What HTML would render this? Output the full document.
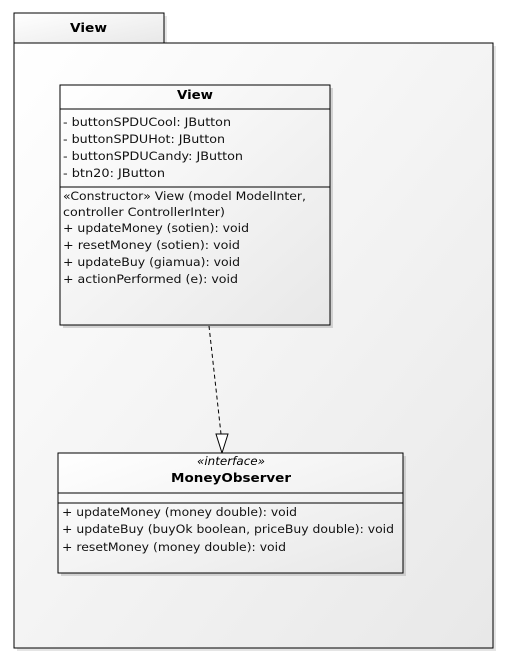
<!DOCTYPE html>
<html><head><meta charset="utf-8"><style>html,body{margin:0;padding:0;background:#fff}svg{display:block}</style></head>
<body>
<svg width="509" height="664" xmlns="http://www.w3.org/2000/svg" font-family="DejaVu Sans, Verdana, sans-serif" font-size="11.5">
<defs>
<linearGradient id="g" x1="0" y1="0" x2="1" y2="1"><stop offset="0" stop-color="#ffffff"/><stop offset="1" stop-color="#e8e8e8"/></linearGradient>
</defs>
<rect x="17" y="16" width="150" height="30" fill="#ccc" opacity="0.5"/>
<rect x="17" y="46" width="479" height="605" fill="#ccc" opacity="0.5"/>
<rect x="14" y="13" width="150" height="30" fill="url(#g)" stroke="#000" stroke-width="1"/>
<rect x="14" y="43" width="479" height="605" fill="url(#g)" stroke="#000" stroke-width="1"/>
<text x="70" y="32" textLength="37" lengthAdjust="spacingAndGlyphs" font-weight="bold" font-size="12.5">View</text>
<rect x="63" y="88" width="270" height="240" fill="#bbb" opacity="0.6"/>
<rect x="60" y="85" width="270" height="240" fill="url(#g)" stroke="#000"/>
<line x1="60" y1="109" x2="330" y2="109" stroke="#000"/>
<line x1="60" y1="187" x2="330" y2="187" stroke="#000"/>
<text x="177" y="99" textLength="36" lengthAdjust="spacingAndGlyphs" font-weight="bold" font-size="12.5">View</text>
<g fill="#111">
<text x="63" y="126" textLength="168" lengthAdjust="spacingAndGlyphs">- buttonSPDUCool: JButton</text>
<text x="63" y="143" textLength="162" lengthAdjust="spacingAndGlyphs">- buttonSPDUHot: JButton</text>
<text x="63" y="160" textLength="180" lengthAdjust="spacingAndGlyphs">- buttonSPDUCandy: JButton</text>
<text x="63" y="177" textLength="102" lengthAdjust="spacingAndGlyphs">- btn20: JButton</text>
<text x="63" y="200" textLength="243" lengthAdjust="spacingAndGlyphs">«Constructor» View (model ModelInter,</text>
<text x="63" y="216" textLength="162" lengthAdjust="spacingAndGlyphs">controller ControllerInter)</text>
<text x="63" y="232" textLength="186" lengthAdjust="spacingAndGlyphs">+ updateMoney (sotien): void</text>
<text x="63" y="249" textLength="177" lengthAdjust="spacingAndGlyphs">+ resetMoney (sotien): void</text>
<text x="63" y="266" textLength="177" lengthAdjust="spacingAndGlyphs">+ updateBuy (giamua): void</text>
<text x="63" y="283" textLength="175" lengthAdjust="spacingAndGlyphs">+ actionPerformed (e): void</text>
</g>
<line x1="209" y1="326" x2="221" y2="434" stroke="#000" stroke-dasharray="4,3"/>
<polygon points="216,434 228,434 222,453" fill="#fff" stroke="#000"/>
<rect x="61" y="456" width="345" height="120" fill="#bbb" opacity="0.6"/>
<rect x="58" y="453" width="345" height="120" fill="url(#g)" stroke="#000"/>
<line x1="58" y1="493" x2="403" y2="493" stroke="#000"/>
<line x1="58" y1="503" x2="403" y2="503" stroke="#000"/>
<text x="197" y="465" textLength="68" lengthAdjust="spacingAndGlyphs" font-style="italic">«interface»</text>
<text x="171" y="482" textLength="120" lengthAdjust="spacingAndGlyphs" font-weight="bold" font-size="12.5">MoneyObserver</text>
<g fill="#111">
<text x="62" y="516" textLength="235" lengthAdjust="spacingAndGlyphs">+ updateMoney (money double): void</text>
<text x="62" y="533" textLength="332" lengthAdjust="spacingAndGlyphs">+ updateBuy (buyOk boolean, priceBuy double): void</text>
<text x="62" y="551" textLength="224" lengthAdjust="spacingAndGlyphs">+ resetMoney (money double): void</text>
</g>
</svg>
</body></html>
